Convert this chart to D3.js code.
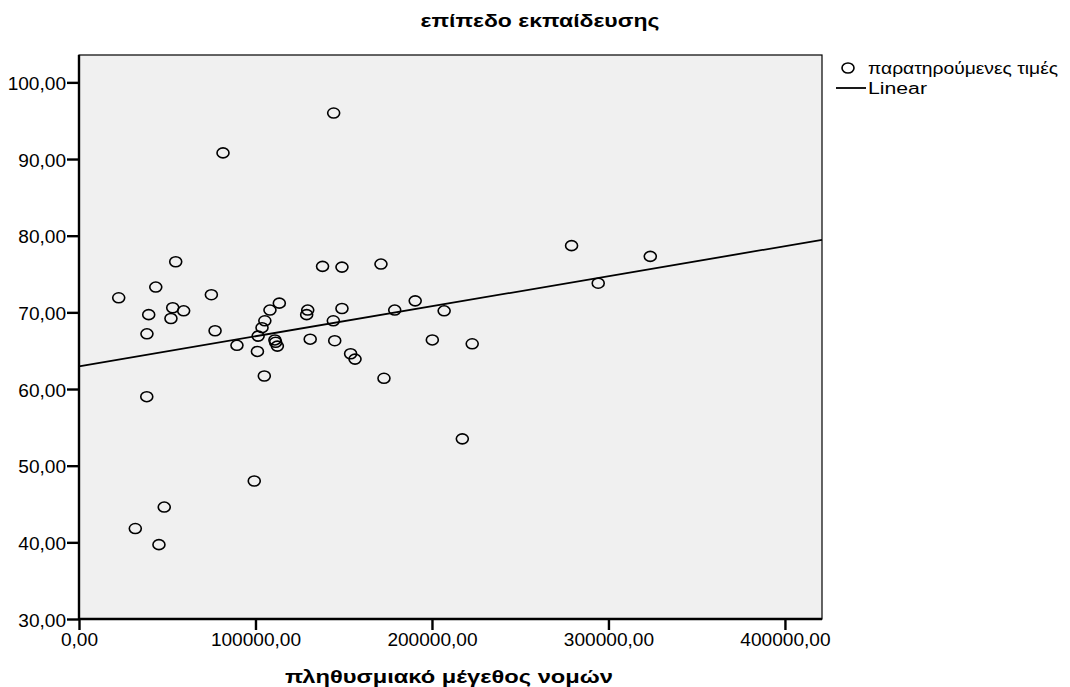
<!DOCTYPE html>
<html>
<head>
<meta charset="utf-8">
<script src="https://cdn.jsdelivr.net/npm/d3@7"></script>
<style>
  body { margin: 0; background: #fff; }
  svg text { font-family: "Liberation Sans", Arial, sans-serif; fill: #000; }
</style>
</head>
<body>
<svg id="chart" width="1070" height="687"></svg>
<script>
// population (x) and education level (y)
const population = [
  144300, 81600, 279100, 323700, 294200, 54800, 138000, 149000, 171100, 22500,
  43500, 75000, 190500, 113500, 53100, 59300, 39500, 52100, 108200, 129600,
  129000, 149000, 178900, 206900, 144100, 77100, 38500, 89500, 101100, 105000,
  101500, 103700, 105300, 111000, 111400, 112400, 131000, 144900, 153900, 156400,
  200200, 222800, 172800, 217200, 38400, 99300, 48300, 31900, 45300
];
const education = [
  96.0, 90.8, 78.7, 77.3, 73.8, 76.6, 76.0, 75.9, 76.3, 71.9,
  73.3, 72.3, 71.5, 71.2, 70.6, 70.2, 69.7, 69.2, 70.3, 70.3,
  69.7, 70.5, 70.3, 70.2, 68.9, 67.6, 67.2, 65.7, 64.9, 61.7,
  66.9, 68.0, 68.9, 66.4, 66.1, 65.6, 66.5, 66.3, 64.6, 63.9,
  66.4, 65.9, 61.4, 53.5, 59.0, 48.0, 44.6, 41.8, 39.7
];
const xTicks = [0, 100000, 200000, 300000, 400000];
const yTicks = [30, 40, 50, 60, 70, 80, 90, 100];
const xDomain = [0, 421000];
const yDomain = [30, 103.57];
const titleText = "επίπεδο εκπαίδευσης";
const xTitleText = "πληθυσμιακό μέγεθος νομών";
const legendLabels = ["παρατηρούμενες τιμές", "Linear"];

const svg = d3.select("#chart");
const L = 79, R = 822, T = 55, B = 619;

const x = d3.scaleLinear().domain(xDomain).range([L, R]);
const y = d3.scaleLinear().domain(yDomain).range([B, T]);
const fmt = v => d3.format(".2f")(v).replace(".", ",");

// stretch text horizontally (reference glyphs are wider than Liberation Sans)
function stretch(sel, factor) {
  sel.each(function() {
    const w = this.getComputedTextLength();
    d3.select(this).attr("textLength", w * factor).attr("lengthAdjust", "spacingAndGlyphs");
  });
}

// plot background
svg.append("rect").attr("x", L).attr("y", T).attr("width", R - L).attr("height", B - T)
  .attr("fill", "#f0f0f0").attr("stroke", "#000").attr("stroke-width", 1.2);

// linear fit (least squares)
const n = population.length;
const mx = d3.mean(population), my = d3.mean(education);
let sxy = 0, sxx = 0;
for (let i = 0; i < n; i++) {
  sxy += (population[i] - mx) * (education[i] - my);
  sxx += (population[i] - mx) ** 2;
}
const slope = sxy / sxx, intercept = my - slope * mx;
const lineData = xDomain.map(v => [v, intercept + slope * v]);
svg.append("path").datum(lineData)
  .attr("d", d3.line().x(d => x(d[0])).y(d => y(d[1])))
  .attr("fill", "none").attr("stroke", "#000").attr("stroke-width", 1.8);

// points
svg.append("g").selectAll("ellipse").data(d3.range(n)).join("ellipse")
  .attr("cx", i => x(population[i])).attr("cy", i => y(education[i]))
  .attr("rx", 6).attr("ry", 5)
  .attr("fill", "none").attr("stroke", "#000").attr("stroke-width", 1.6);

// axes
const yAxis = svg.append("g").attr("transform", `translate(${L},0)`)
  .call(d3.axisLeft(y).tickValues(yTicks).tickFormat(fmt).tickSize(12).tickPadding(1));
const xAxis = svg.append("g").attr("transform", `translate(0,${B})`)
  .call(d3.axisBottom(x).tickValues(xTicks).tickFormat(fmt).tickSize(11).tickPadding(3));
[yAxis, xAxis].forEach(g => {
  g.select(".domain").attr("stroke", "#000").attr("stroke-width", 2.4);
  g.selectAll(".tick line").attr("stroke", "#000").attr("stroke-width", 2.4);
  g.selectAll(".tick text").attr("font-size", 18).attr("fill", "#000")
    .attr("font-family", "Liberation Sans, Arial, sans-serif");
  stretch(g.selectAll(".tick text"), 1.06);
});
yAxis.selectAll(".tick text").attr("dy", "0.4em");
yAxis.select(".domain").attr("d", `M0,${T}V${B}`);
xAxis.select(".domain").attr("d", `M${L},0H${R}`);

// titles
svg.append("text").attr("x", 540).attr("y", 27).attr("text-anchor", "middle")
  .attr("font-size", 19).attr("font-weight", "bold")
  .attr("textLength", 239).attr("lengthAdjust", "spacingAndGlyphs").text(titleText);
svg.append("text").attr("x", 449).attr("y", 683).attr("text-anchor", "middle")
  .attr("font-size", 19).attr("font-weight", "bold")
  .attr("textLength", 328).attr("lengthAdjust", "spacingAndGlyphs").text(xTitleText);

// legend
svg.append("ellipse").attr("cx", 848).attr("cy", 68).attr("rx", 6).attr("ry", 5)
  .attr("fill", "none").attr("stroke", "#000").attr("stroke-width", 1.6);
svg.append("text").attr("x", 868).attr("y", 74).attr("font-size", 16)
  .attr("textLength", 190).attr("lengthAdjust", "spacingAndGlyphs").text(legendLabels[0]);
svg.append("line").attr("x1", 836).attr("x2", 866).attr("y1", 88).attr("y2", 88)
  .attr("stroke", "#000").attr("stroke-width", 1.8);
svg.append("text").attr("x", 868).attr("y", 94).attr("font-size", 16)
  .attr("textLength", 59).attr("lengthAdjust", "spacingAndGlyphs").text(legendLabels[1]);
</script>
</body>
</html>
